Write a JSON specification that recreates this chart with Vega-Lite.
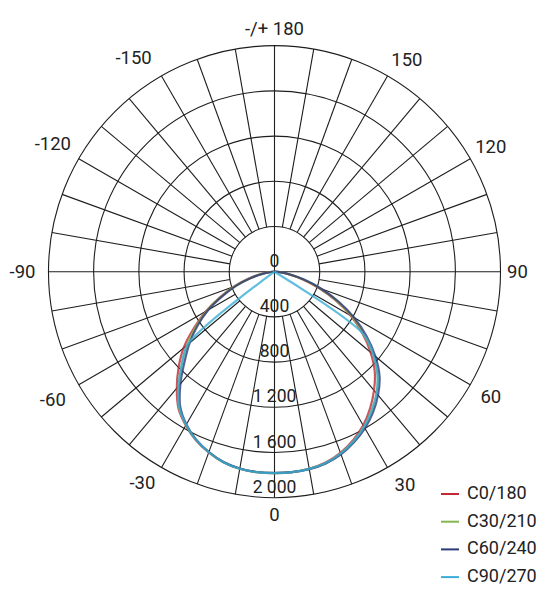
{
  "$schema": "https://vega.github.io/schema/vega-lite/v6.json",
  "width": 556,
  "height": 600,
  "autosize": {"type": "none"},
  "padding": 0,
  "background": "white",
  "config": {"view": {"stroke": null}, "font": "Roboto"},
  "datasets": {
    "rings": [{"r": 400}, {"r": 800}, {"r": 1200}, {"r": 1600}, {"r": 2000}],
    "spokes": [
      {"a": 0}, {"a": 10}, {"a": 20}, {"a": 30}, {"a": 40}, {"a": 50}, {"a": 60}, {"a": 70}, {"a": 80},
      {"a": 90}, {"a": 100}, {"a": 110}, {"a": 120}, {"a": 130}, {"a": 140}, {"a": 150}, {"a": 160}, {"a": 170},
      {"a": 180}, {"a": 190}, {"a": 200}, {"a": 210}, {"a": 220}, {"a": 230}, {"a": 240}, {"a": 250}, {"a": 260},
      {"a": 270}, {"a": 280}, {"a": 290}, {"a": 300}, {"a": 310}, {"a": 320}, {"a": 330}, {"a": 340}, {"a": 350}
    ],
    "ringLabels": [
      {"v": 0, "label": "0"}, {"v": 400, "label": "400"}, {"v": 800, "label": "800"},
      {"v": 1200, "label": "1 200"}, {"v": 1600, "label": "1 600"}, {"v": 2000, "label": "2 000"}
    ],
    "angleLabels": [
      {"a": 180, "label": "-/+ 180"}, {"a": 150, "label": "150"}, {"a": 120, "label": "120"},
      {"a": 90, "label": "90"}, {"a": 60, "label": "60"}, {"a": 30, "label": "30"}, {"a": 0, "label": "0"},
      {"a": -30, "label": "-30"}, {"a": -60, "label": "-60"}, {"a": -90, "label": "-90"},
      {"a": -120, "label": "-120"}, {"a": -150, "label": "-150"}
    ],
    "curves": [
      {"plane": "C0/180", "g": -90, "I": 0}, {"plane": "C0/180", "g": -85, "I": 40}, {"plane": "C0/180", "g": -80, "I": 120},
      {"plane": "C0/180", "g": -75, "I": 240}, {"plane": "C0/180", "g": -70, "I": 380}, {"plane": "C0/180", "g": -65, "I": 530},
      {"plane": "C0/180", "g": -60, "I": 700}, {"plane": "C0/180", "g": -55, "I": 870}, {"plane": "C0/180", "g": -50, "I": 1050},
      {"plane": "C0/180", "g": -45, "I": 1200}, {"plane": "C0/180", "g": -40, "I": 1345}, {"plane": "C0/180", "g": -35, "I": 1480},
      {"plane": "C0/180", "g": -30, "I": 1570}, {"plane": "C0/180", "g": -25, "I": 1645}, {"plane": "C0/180", "g": -20, "I": 1702},
      {"plane": "C0/180", "g": -15, "I": 1746}, {"plane": "C0/180", "g": -10, "I": 1771}, {"plane": "C0/180", "g": -5, "I": 1781},
      {"plane": "C0/180", "g": 0, "I": 1783}, {"plane": "C0/180", "g": 5, "I": 1781}, {"plane": "C0/180", "g": 10, "I": 1770},
      {"plane": "C0/180", "g": 15, "I": 1748}, {"plane": "C0/180", "g": 20, "I": 1705}, {"plane": "C0/180", "g": 25, "I": 1645},
      {"plane": "C0/180", "g": 30, "I": 1570}, {"plane": "C0/180", "g": 35, "I": 1475}, {"plane": "C0/180", "g": 40, "I": 1370},
      {"plane": "C0/180", "g": 45, "I": 1255}, {"plane": "C0/180", "g": 50, "I": 1110}, {"plane": "C0/180", "g": 55, "I": 950},
      {"plane": "C0/180", "g": 60, "I": 780}, {"plane": "C0/180", "g": 65, "I": 595}, {"plane": "C0/180", "g": 70, "I": 415},
      {"plane": "C0/180", "g": 75, "I": 255}, {"plane": "C0/180", "g": 80, "I": 125}, {"plane": "C0/180", "g": 85, "I": 40},
      {"plane": "C0/180", "g": 90, "I": 0},

      {"plane": "C30/210", "g": -90, "I": 0}, {"plane": "C30/210", "g": -85, "I": 35}, {"plane": "C30/210", "g": -80, "I": 110},
      {"plane": "C30/210", "g": -75, "I": 230}, {"plane": "C30/210", "g": -70, "I": 370}, {"plane": "C30/210", "g": -65, "I": 520},
      {"plane": "C30/210", "g": -60, "I": 690}, {"plane": "C30/210", "g": -55, "I": 850}, {"plane": "C30/210", "g": -50, "I": 1010},
      {"plane": "C30/210", "g": -45, "I": 1160}, {"plane": "C30/210", "g": -40, "I": 1320}, {"plane": "C30/210", "g": -35, "I": 1470},
      {"plane": "C30/210", "g": -30, "I": 1565}, {"plane": "C30/210", "g": -25, "I": 1642}, {"plane": "C30/210", "g": -20, "I": 1700},
      {"plane": "C30/210", "g": -15, "I": 1745}, {"plane": "C30/210", "g": -10, "I": 1770}, {"plane": "C30/210", "g": -5, "I": 1780},
      {"plane": "C30/210", "g": 0, "I": 1782}, {"plane": "C30/210", "g": 5, "I": 1780}, {"plane": "C30/210", "g": 10, "I": 1772},
      {"plane": "C30/210", "g": 15, "I": 1752}, {"plane": "C30/210", "g": 20, "I": 1712}, {"plane": "C30/210", "g": 25, "I": 1655},
      {"plane": "C30/210", "g": 30, "I": 1585}, {"plane": "C30/210", "g": 35, "I": 1500}, {"plane": "C30/210", "g": 40, "I": 1405},
      {"plane": "C30/210", "g": 45, "I": 1290}, {"plane": "C30/210", "g": 50, "I": 1140}, {"plane": "C30/210", "g": 55, "I": 965},
      {"plane": "C30/210", "g": 60, "I": 790}, {"plane": "C30/210", "g": 65, "I": 605}, {"plane": "C30/210", "g": 70, "I": 425},
      {"plane": "C30/210", "g": 75, "I": 260}, {"plane": "C30/210", "g": 80, "I": 130}, {"plane": "C30/210", "g": 85, "I": 45},
      {"plane": "C30/210", "g": 90, "I": 0},

      {"plane": "C60/240", "g": -90, "I": 0}, {"plane": "C60/240", "g": -85, "I": 30}, {"plane": "C60/240", "g": -80, "I": 100},
      {"plane": "C60/240", "g": -75, "I": 215}, {"plane": "C60/240", "g": -70, "I": 355}, {"plane": "C60/240", "g": -65, "I": 505},
      {"plane": "C60/240", "g": -60, "I": 675}, {"plane": "C60/240", "g": -55, "I": 830}, {"plane": "C60/240", "g": -50, "I": 980},
      {"plane": "C60/240", "g": -45, "I": 1125}, {"plane": "C60/240", "g": -40, "I": 1295}, {"plane": "C60/240", "g": -35, "I": 1455},
      {"plane": "C60/240", "g": -30, "I": 1560}, {"plane": "C60/240", "g": -25, "I": 1640}, {"plane": "C60/240", "g": -20, "I": 1698},
      {"plane": "C60/240", "g": -15, "I": 1743}, {"plane": "C60/240", "g": -10, "I": 1768}, {"plane": "C60/240", "g": -5, "I": 1779},
      {"plane": "C60/240", "g": 0, "I": 1781}, {"plane": "C60/240", "g": 5, "I": 1781}, {"plane": "C60/240", "g": 10, "I": 1774},
      {"plane": "C60/240", "g": 15, "I": 1756}, {"plane": "C60/240", "g": 20, "I": 1720}, {"plane": "C60/240", "g": 25, "I": 1665},
      {"plane": "C60/240", "g": 30, "I": 1600}, {"plane": "C60/240", "g": 35, "I": 1520}, {"plane": "C60/240", "g": 40, "I": 1425},
      {"plane": "C60/240", "g": 45, "I": 1315}, {"plane": "C60/240", "g": 50, "I": 1165}, {"plane": "C60/240", "g": 55, "I": 995},
      {"plane": "C60/240", "g": 60, "I": 815}, {"plane": "C60/240", "g": 65, "I": 625}, {"plane": "C60/240", "g": 70, "I": 440},
      {"plane": "C60/240", "g": 75, "I": 275}, {"plane": "C60/240", "g": 80, "I": 140}, {"plane": "C60/240", "g": 85, "I": 50},
      {"plane": "C60/240", "g": 90, "I": 0},

      {"plane": "C90/270", "g": -90, "I": 0}, {"plane": "C90/270", "g": -85, "I": 0}, {"plane": "C90/270", "g": -80, "I": 0},
      {"plane": "C90/270", "g": -75, "I": 0}, {"plane": "C90/270", "g": -70, "I": 0}, {"plane": "C90/270", "g": -65, "I": 0},
      {"plane": "C90/270", "g": -60, "I": 0}, {"plane": "C90/270", "g": -55, "I": 0}, {"plane": "C90/270", "g": -50, "I": 1000},
      {"plane": "C90/270", "g": -45, "I": 1160}, {"plane": "C90/270", "g": -40, "I": 1320}, {"plane": "C90/270", "g": -35, "I": 1468},
      {"plane": "C90/270", "g": -30, "I": 1565}, {"plane": "C90/270", "g": -25, "I": 1642}, {"plane": "C90/270", "g": -20, "I": 1700},
      {"plane": "C90/270", "g": -15, "I": 1746}, {"plane": "C90/270", "g": -10, "I": 1771}, {"plane": "C90/270", "g": -5, "I": 1781},
      {"plane": "C90/270", "g": 0, "I": 1782}, {"plane": "C90/270", "g": 5, "I": 1781}, {"plane": "C90/270", "g": 10, "I": 1772},
      {"plane": "C90/270", "g": 15, "I": 1752}, {"plane": "C90/270", "g": 20, "I": 1712}, {"plane": "C90/270", "g": 25, "I": 1655},
      {"plane": "C90/270", "g": 30, "I": 1585}, {"plane": "C90/270", "g": 35, "I": 1500}, {"plane": "C90/270", "g": 40, "I": 1405},
      {"plane": "C90/270", "g": 45, "I": 1290}, {"plane": "C90/270", "g": 50, "I": 1140}, {"plane": "C90/270", "g": 55, "I": 955},
      {"plane": "C90/270", "g": 60, "I": 0}, {"plane": "C90/270", "g": 65, "I": 0}, {"plane": "C90/270", "g": 70, "I": 0},
      {"plane": "C90/270", "g": 75, "I": 0}, {"plane": "C90/270", "g": 80, "I": 0}, {"plane": "C90/270", "g": 85, "I": 0},
      {"plane": "C90/270", "g": 90, "I": 0}
    ]
  },
  "layer": [
    {
      "data": {"name": "rings"},
      "mark": {"type": "arc", "filled": false, "stroke": "#1e1e1e", "strokeWidth": 1.1, "theta": 0, "theta2": 6.2832},
      "encoding": {
        "x": {"datum": 0, "type": "quantitative", "scale": {"domain": [-2429, 2491], "nice": false, "zero": false}, "axis": null},
        "y": {"datum": 0, "type": "quantitative", "scale": {"domain": [-2905, 2404], "nice": false, "zero": false}, "axis": null},
        "radius": {"field": "r", "type": "quantitative", "stack": null, "scale": {"type": "linear", "domain": [0, 2000], "range": [0, 226.02], "zero": true}, "legend": null}
      }
    },
    {
      "data": {"name": "spokes"},
      "transform": [
        {"calculate": "datum.a % 90 === 0 ? 0 : 400", "as": "r1"},
        {"calculate": "datum.r1 * sin(datum.a * PI / 180)", "as": "x1"},
        {"calculate": "-datum.r1 * cos(datum.a * PI / 180)", "as": "y1"},
        {"calculate": "2000 * sin(datum.a * PI / 180)", "as": "x2"},
        {"calculate": "-2000 * cos(datum.a * PI / 180)", "as": "y2"}
      ],
      "mark": {"type": "rule", "stroke": "#1e1e1e", "strokeWidth": 1.1},
      "encoding": {
        "x": {"field": "x1", "type": "quantitative", "scale": {"domain": [-2429, 2491], "nice": false, "zero": false}, "axis": null},
        "y": {"field": "y1", "type": "quantitative", "scale": {"domain": [-2905, 2404], "nice": false, "zero": false}, "axis": null},
        "x2": {"field": "x2"},
        "y2": {"field": "y2"}
      }
    },
    {
      "data": {"name": "curves"},
      "transform": [
        {"calculate": "datum.I * sin(datum.g * PI / 180)", "as": "px"},
        {"calculate": "-datum.I * cos(datum.g * PI / 180)", "as": "py"}
      ],
      "mark": {"type": "line", "strokeWidth": 2.2, "strokeJoin": "round", "opacity": 0.8, "interpolate": "catmull-rom"},
      "encoding": {
        "x": {"field": "px", "type": "quantitative", "scale": {"domain": [-2429, 2491], "nice": false, "zero": false}, "axis": null},
        "y": {"field": "py", "type": "quantitative", "scale": {"domain": [-2905, 2404], "nice": false, "zero": false}, "axis": null},
        "order": {"field": "g", "type": "quantitative"},
        "color": {
          "field": "plane", "type": "nominal",
          "scale": {"domain": ["C0/180", "C30/210", "C60/240", "C90/270"], "range": ["#bf2a33", "#86b552", "#2a3b78", "#3aaed6"]},
          "legend": {
            "title": null, "orient": "none", "legendX": 440, "legendY": 484, "padding": 0,
            "symbolType": "stroke", "symbolSize": 324, "symbolStrokeWidth": 2, "symbolOpacity": 1,
            "labelFont": "Roboto", "labelFontSize": 18, "labelColor": "#222", "labelOffset": 7, "rowPadding": 8.7
          }
        }
      }
    },
    {
      "data": {"name": "ringLabels"},
      "transform": [{"calculate": "-datum.v", "as": "py"}],
      "mark": {"type": "text", "font": "Roboto", "fontSize": 17.5, "color": "#222", "align": "center", "baseline": "middle", "dy": -10},
      "encoding": {
        "x": {"datum": 0, "type": "quantitative", "scale": {"domain": [-2429, 2491], "nice": false, "zero": false}, "axis": null},
        "y": {"field": "py", "type": "quantitative", "scale": {"domain": [-2905, 2404], "nice": false, "zero": false}, "axis": null},
        "text": {"field": "label"}
      }
    },
    {
      "data": {"name": "angleLabels"},
      "transform": [
        {"calculate": "datum.a === 180 || datum.a === 0 || datum.a === 90 ? 2150 : datum.a === -90 ? 2230 : datum.a === -30 ? 2205 : datum.a < 0 ? 2265 : 2210", "as": "lr"},
        {"calculate": "datum.a + (abs(datum.a) === 30 ? (datum.a > 0 ? 1.5 : -2) : abs(datum.a) === 150 ? (datum.a > 0 ? -2 : 3.4) : 0)", "as": "la"},
        {"calculate": "datum.lr * sin(datum.la * PI / 180)", "as": "px"},
        {"calculate": "-datum.lr * cos(datum.la * PI / 180)", "as": "py"}
      ],
      "mark": {"type": "text", "font": "Roboto", "fontSize": 18.5, "color": "#222", "align": "center", "baseline": "middle"},
      "encoding": {
        "x": {"field": "px", "type": "quantitative", "scale": {"domain": [-2429, 2491], "nice": false, "zero": false}, "axis": null},
        "y": {"field": "py", "type": "quantitative", "scale": {"domain": [-2905, 2404], "nice": false, "zero": false}, "axis": null},
        "text": {"field": "label"}
      }
    }
  ]
}
